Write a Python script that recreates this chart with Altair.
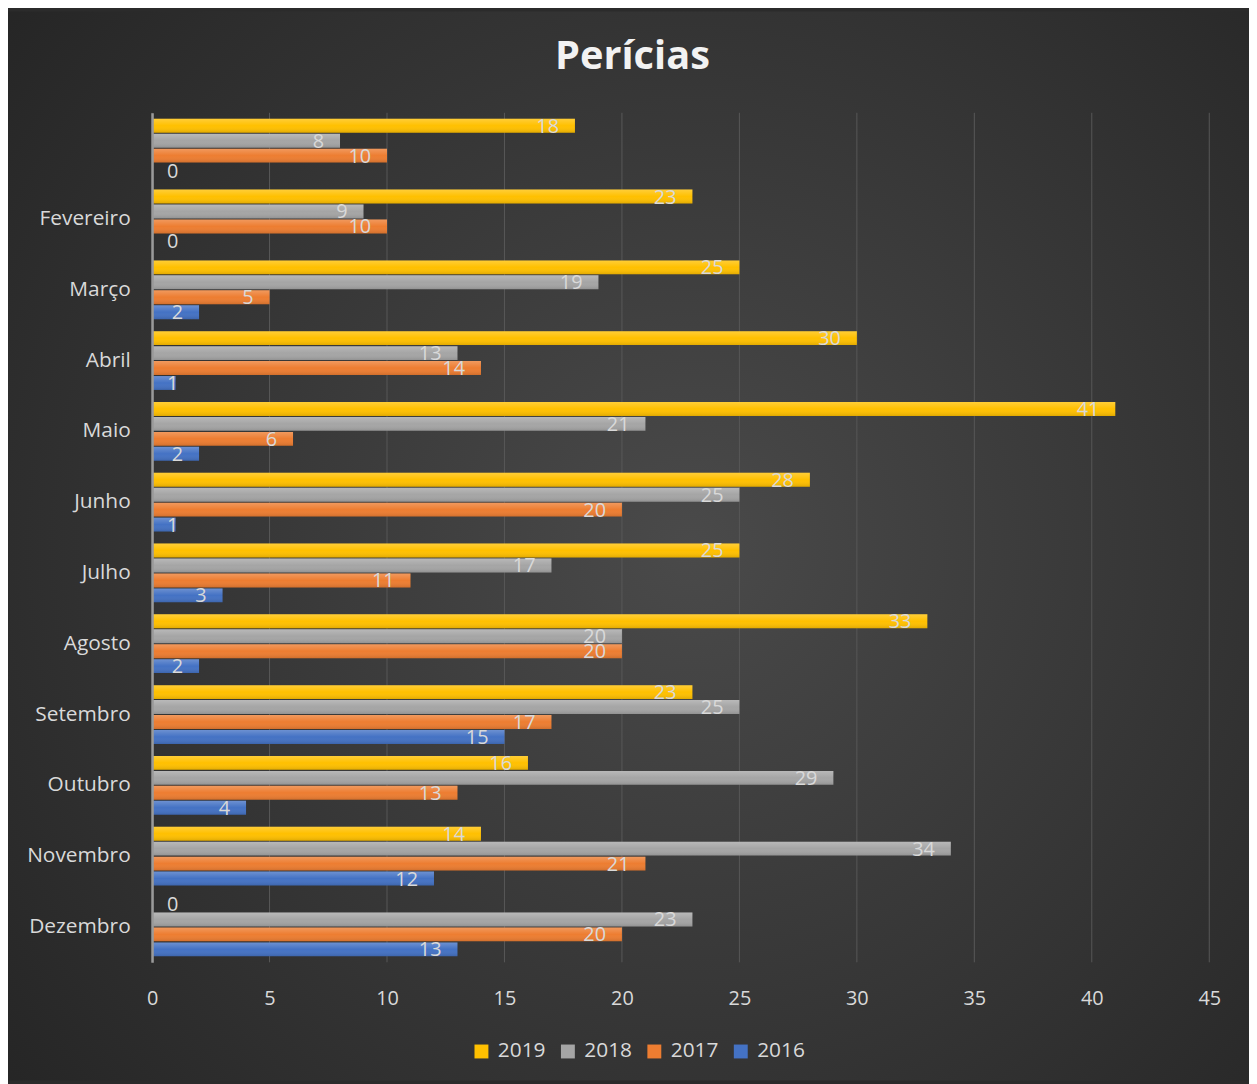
import altair as alt
import pandas as pd

title_text = "Perícias"
months = [" ", "Fevereiro", "Março", "Abril", "Maio", "Junho", "Julho",
          "Agosto", "Setembro", "Outubro", "Novembro", "Dezembro"]
series = ["2019", "2018", "2017", "2016"]
v2019 = [18, 23, 25, 30, 41, 28, 25, 33, 23, 16, 14, 0]
v2018 = [8, 9, 19, 13, 21, 25, 17, 20, 25, 29, 34, 23]
v2017 = [10, 10, 5, 14, 6, 20, 11, 20, 17, 13, 21, 20]
v2016 = [0, 0, 2, 1, 2, 1, 3, 2, 15, 4, 12, 13]
colors = ["#FFC000", "#A5A5A5", "#ED7D31", "#4472C4"]
x_ticks = [0, 5, 10, 15, 20, 25, 30, 35, 40, 45]

rows = []
for s, vals in zip(series, [v2019, v2018, v2017, v2016]):
    for m, v in zip(months, vals):
        rows.append({"mes": m, "ano": s, "valor": v})
df = pd.DataFrame(rows)
ticks_df = pd.DataFrame({"t": x_ticks})

W, H = 1064, 855
PL, PT, PR, PB = 145, 102, 40, 119

FONT = "Open Sans"
LABEL = "#D9D9D9"

bg_gradient = {
    "gradient": "radial",
    "x1": 0.55, "y1": 0.5, "r1": 0.0,
    "x2": 0.55, "y2": 0.5, "r2": 0.75,
    "stops": [
        {"offset": 0.0, "color": "#4a4a4a"},
        {"offset": 1.0, "color": "#232323"},
    ],
}

sheen = {
    "gradient": "linear",
    "x1": 0, "y1": 0, "x2": 0, "y2": 1,
    "stops": [
        {"offset": 0.0, "color": "rgba(255,255,255,0.22)"},
        {"offset": 0.5, "color": "rgba(255,255,255,0.0)"},
        {"offset": 1.0, "color": "rgba(0,0,0,0.12)"},
    ],
}

bg = alt.Chart(pd.DataFrame({"a": [0]})).mark_rect(fill=bg_gradient).encode(
    x=alt.value(-PL), x2=alt.value(W + PR),
    y=alt.value(-PT), y2=alt.value(H + PB),
)

title = alt.Chart(pd.DataFrame({"t": [title_text]})).mark_text(
    font=FONT, fontSize=40, fontWeight="bold", color="#F2F2F2",
    align="center", baseline="alphabetic",
).encode(
    x=alt.value((W + PL + PR) / 2 - PL + 4),
    y=alt.value(-44),
    text="t:N",
)

xscale = alt.Scale(domain=[0, 45])

grid = alt.Chart(ticks_df).mark_rule(color="#585858", strokeWidth=1).encode(
    x=alt.X("t:Q", scale=xscale),
    y=alt.value(0), y2=alt.value(H),
)

yenc = alt.Y("mes:N", sort=months,
             scale=alt.Scale(paddingInner=0.17, paddingOuter=0.085),
             axis=alt.Axis(title=None, ticks=False, labelPadding=22,
                           labelFontSize=21, labelFont=FONT, labelColor=LABEL,
                           domainColor="#9a9a9a", domainWidth=2.5, zindex=1))
yoff = alt.YOffset("ano:N", sort=series, scale=alt.Scale(paddingInner=0.07))

bars = alt.Chart(df).mark_bar().encode(
    x=alt.X("valor:Q", scale=xscale,
            axis=alt.Axis(values=x_ticks, title=None, grid=False, domain=False,
                          ticks=False, labelPadding=26, labelFontSize=20,
                          labelFlush=False,
                          labelFont=FONT, labelColor=LABEL, zindex=1)),
    y=yenc,
    yOffset=yoff,
    color=alt.Color("ano:N", sort=series,
                    scale=alt.Scale(domain=series, range=colors),
                    legend=alt.Legend(title=None, orient="none", direction="horizontal",
                                      legendX=321, legendY=934, symbolType="square",
                                      symbolSize=196, symbolStrokeWidth=0,
                                      labelFontSize=21, labelFont=FONT,
                                      labelColor=LABEL, labelOffset=6,
                                      columnPadding=11, zindex=1)),
)

bar_sheen = alt.Chart(df).mark_bar(fill=sheen).encode(
    x=alt.X("valor:Q", scale=xscale),
    y=alt.Y("mes:N", sort=months),
    yOffset=alt.YOffset("ano:N", sort=series),
)

labels = alt.Chart(df).transform_calculate(
    pos="max(datum.valor, 1.8)"
).mark_text(align="right", baseline="middle", dx=-16, dy=1, fontSize=20,
            font=FONT, color=LABEL).encode(
    x=alt.X("pos:Q", scale=xscale),
    y=alt.Y("mes:N", sort=months),
    yOffset=alt.YOffset("ano:N", sort=series),
    text=alt.Text("valor:Q"),
)

chart = alt.layer(bg, title, grid, bars, bar_sheen, labels).properties(
    width=W, height=H,
    padding={"left": PL, "top": PT, "right": PR, "bottom": PB},
    autosize=alt.AutoSizeParams(type="none"),
    background="#2b2b2b",
).configure_view(stroke=None)

chart.save("out.html", embed_options={"renderer": "svg", "actions": False})
